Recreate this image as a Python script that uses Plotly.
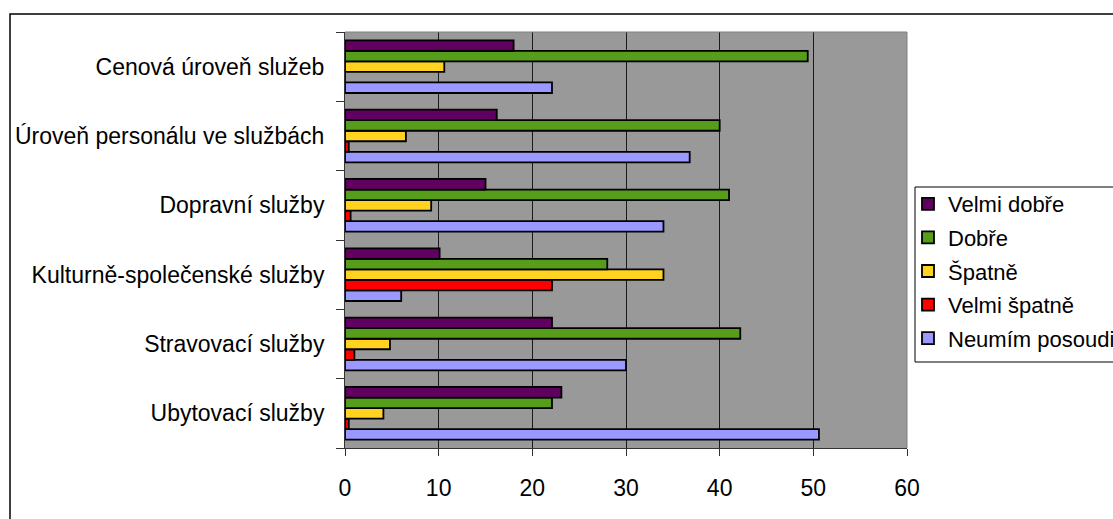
import plotly.graph_objects as go

# Service categories, bottom to top as drawn on the y axis
categories = [
    "Ubytovací služby",
    "Stravovací služby",
    "Kulturně-společenské služby",
    "Dopravní služby",
    "Úroveň personálu ve službách",
    "Cenová úroveň služeb",
]

# Share of answers (%) per rating, same order as categories
velmi_dobre = [23.1, 22.1, 10.1, 15.0, 16.2, 18.0]
dobre = [22.1, 42.2, 28.0, 41.0, 40.0, 49.4]
spatne = [4.1, 4.8, 34.0, 9.2, 6.5, 10.6]
velmi_spatne = [0.4, 1.0, 22.1, 0.6, 0.4, 0.0]
neumim = [50.6, 30.0, 6.0, 34.0, 36.8, 22.1]

x_ticks = [0, 10, 20, 30, 40, 50, 60]

series = [
    ("Velmi dobře", velmi_dobre, "#600060"),
    ("Dobře", dobre, "#579d1c"),
    ("Špatně", spatne, "#ffd320"),
    ("Velmi špatně", velmi_spatne, "#ff0000"),
    ("Neumím posoudit", neumim, "#9999ff"),
]

FONT = "Liberation Sans, Arial, sans-serif"
FS = 23

fig = go.Figure()
# Traces are added bottom-up so that each group reads top-down in legend order
for rank, (name, values, color) in reversed(list(enumerate(series))):
    fig.add_trace(
        go.Bar(
            y=categories,
            x=values,
            name=name,
            orientation="h",
            legendgroup=name,
            legendrank=rank + 1,
            marker=dict(color=color, line=dict(color="#000000", width=1.8)),
        )
    )

W, H = 1113, 519
L, R, T, B = 345, 907, 32, 448


def px_x(p):
    return (p - L) / (R - L)


def px_y(p):
    return (B - p) / (B - T)


fig.update_layout(
    width=W,
    height=H,
    margin=dict(l=L, r=W - R, t=T, b=H - B, pad=0, autoexpand=False),
    paper_bgcolor="#ffffff",
    plot_bgcolor="#999999",
    barmode="group",
    bargap=0.24,
    bargroupgap=0,
    font=dict(family=FONT, size=FS, color="#000000"),
    showlegend=True,
    legend=dict(
        x=px_x(908),
        xanchor="left",
        y=px_y(183),
        yanchor="top",
        traceorder="grouped",
        tracegroupgap=2,
        bgcolor="rgba(0,0,0,0)",
        borderwidth=0,
        font=dict(family=FONT, size=22, color="#000000"),
    ),
    xaxis=dict(
        range=[0, 60],
        tickvals=x_ticks,
        ticktext=[str(v) for v in x_ticks],
        showgrid=True,
        gridcolor="#1a1a1a",
        gridwidth=1,
        zeroline=False,
        showline=True,
        linecolor="#333333",
        linewidth=1,
        ticks="outside",
        ticklen=7,
        tickcolor="#333333",
        ticklabelstandoff=12,
        fixedrange=True,
    ),
    yaxis=dict(
        type="category",
        categoryorder="array",
        categoryarray=categories,
        showgrid=False,
        zeroline=False,
        showline=True,
        linecolor="#333333",
        linewidth=1,
        ticks="outside",
        tickson="boundaries",
        ticklen=8,
        tickcolor="#333333",
        ticklabelstandoff=15,
        fixedrange=True,
    ),
    shapes=[
        # outer chart frame, running past the right and bottom window edges
        dict(
            type="rect",
            xref="paper",
            yref="paper",
            x0=px_x(10),
            x1=2.0,
            y0=-1.0,
            y1=px_y(14),
            line=dict(color="#000000", width=1.5),
            fillcolor="rgba(0,0,0,0)",
            layer="below",
        ),
        # light border on top and right of the plot area
        dict(
            type="path",
            xref="paper",
            yref="paper",
            path="M 0 1 L 1 1 L 1 0",
            line=dict(color="#808080", width=1),
            layer="above",
        ),
        # legend box
        dict(
            type="rect",
            xref="paper",
            yref="paper",
            x0=px_x(915),
            x1=px_x(1200),
            y0=px_y(362),
            y1=px_y(187),
            line=dict(color="#000000", width=1),
            fillcolor="#ffffff",
            layer="above",
        ),
    ],
)

fig.write_html("out.html", config={"displayModeBar": False})
